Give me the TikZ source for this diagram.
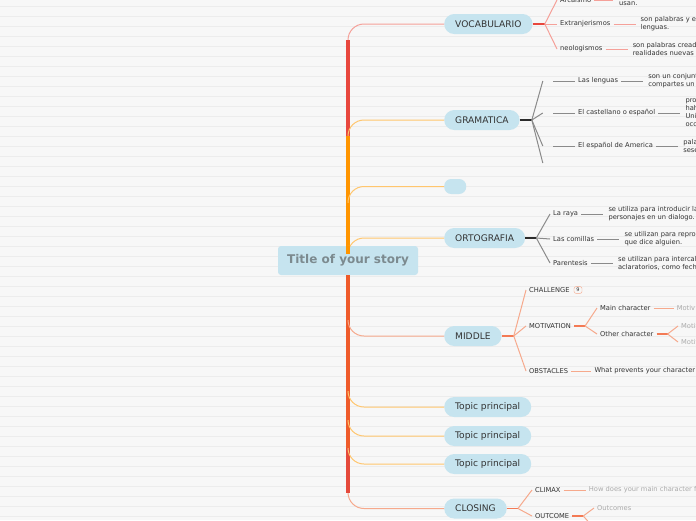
\documentclass[tikz,border=0pt]{standalone}
\usepackage{fontspec}
\setmainfont{DejaVu Sans}
\usetikzlibrary{calc,positioning}

\definecolor{paper}{HTML}{F7F7F7}
\definecolor{ruling}{HTML}{ECECEC}
\definecolor{topicblue}{HTML}{C6E4EF}
\definecolor{titlegray}{HTML}{7C8A8F}
\definecolor{redbr}{HTML}{E8473D}
\definecolor{redlt}{HTML}{F5A099}
\definecolor{orangebr}{HTML}{FF9500}
\definecolor{orangelt}{HTML}{FFC66E}
\definecolor{midbr}{HTML}{EF5B2A}
\definecolor{midjoint}{HTML}{F37A55}
\definecolor{midlt}{HTML}{F6A98C}
\definecolor{closebr}{HTML}{E5493B}
\definecolor{darkline}{HTML}{2B2B2B}
\definecolor{grayline}{HTML}{8A8A8A}
\definecolor{textdark}{HTML}{333333}
\definecolor{textlight}{HTML}{ABABAB}

\tikzset{
  topic/.style={fill=topicblue, rounded corners=10pt, minimum height=20pt,
    inner xsep=11pt, inner ysep=0pt, anchor=west, text=textdark,
    font=\fontsize{9.1}{10}\selectfont},
  sub/.style={anchor=west, inner xsep=3pt, inner ysep=1pt, text=textdark,
    font=\fontsize{6.7}{8}\selectfont},
  detail/.style={anchor=west, inner xsep=5pt, inner ysep=0pt, align=left,
    text=textdark, font=\fontsize{6.7}{8}\selectfont},
  faint/.style={text=textlight},
  trunk/.style={line width=3.6pt},
  twig/.style={line width=1pt},
  joint/.style={line width=1.8pt},
}

\begin{document}
\begin{tikzpicture}[x=1pt,y=-1pt]
    % Paper with ruled lines
    \useasboundingbox (0,0) rectangle (696,520);
    \clip (0,0) rectangle (696,520);
    \fill[paper] (0,0) rectangle (696,520);
    \foreach \y in {6,16,...,516}
        \draw[ruling, line width=0.9pt] (0,\y) -- (696,\y);

    % Central topic
    \node[fill=topicblue, rounded corners=3pt, minimum width=140pt, minimum height=29pt,
        text=titlegray, font=\bfseries\fontsize{12}{14}\selectfont] (title) at (348,260.5) {Title of your story};

    % Main topics
    \node[topic] (voc) at (444,24) {VOCABULARIO};
    \node[topic] (gram) at (444,120) {GRAMATICA};
    \node[topic, minimum width=18pt, minimum height=15pt, rounded corners=7pt] (blank) at (444,186.5) {};
    \node[topic] (orto) at (444,238) {ORTOGRAFIA};
    \node[topic] (mid) at (444,336) {MIDDLE};
    \node[topic] (tp1) at (444,407) {Topic principal};
    \node[topic] (tp2) at (444,436) {Topic principal};
    \node[topic] (tp3) at (444,464) {Topic principal};
    \node[topic] (close) at (444,508.5) {CLOSING};

    % Branches above the title
    \foreach \n/\c/\l in {voc/redbr/redlt, gram/orangebr/orangelt, blank/orangebr/orangelt, orto/orangebr/orangelt} {
        \draw[twig, \l, rounded corners=16pt] (title.north) |- (\n.west);
        \draw[trunk, \c] (title.north) -- ($(title.north |- \n.west)+(0,16)$);
    }
    % Branches below the title
    \foreach \n/\c/\l in {close/closebr/midlt, tp3/midbr/orangelt, tp2/midbr/orangelt, tp1/midbr/orangelt, mid/midbr/midlt} {
        \draw[twig, \l, rounded corners=16pt] (title.south) |- (\n.west);
        \draw[trunk, \c] (title.south) -- ($(title.south |- \n.west)+(0,-16)$);
    }

    % VOCABULARIO
    \coordinate[right=12pt of voc.east] (vocj);
    \draw[joint, redbr] (voc.east) -- (vocj);
    \node[sub] (arc) at (557,0) {Arcaismo};
    \node[sub] (extr) at (557,24) {Extranjerismos};
    \node[sub] (neo) at (557,49) {neologismos};
    \foreach \k in {arc,extr,neo}
        \draw[twig, redlt] (vocj) -- (\k.west);
    \node[detail] (arcd) at (614,3.5) {usan.};
    \node[detail, right=22pt of extr] (extrd) {son palabras y exp\\lenguas.};
    \node[detail, right=22pt of neo] (neod) {son palabras creadas\\realidades nuevas co};
    \draw[twig, redlt] (arc.east) -- ($(arcd.west |- arc.east)+(-1pt,0)$);
    \draw[twig, redlt] (extr.east) -- (extrd.west);
    \draw[twig, redlt] (neo.east) -- (neod.west);

    % GRAMATICA
    \coordinate[right=12pt of gram.east] (gramj);
    \draw[joint, darkline] (gram.east) -- (gramj);
    \foreach \k/\y in {g1/81, g2/113, g3/146, g4/163} {
        \node[inner sep=0pt, minimum width=10pt] (\k) at (548,\y) {};
        \draw[twig, grayline] (gramj) -- (\k.west);
    }
    \node[sub] (leng) at (575,81) {Las lenguas};
    \node[sub] (cast) at (575,113) {El castellano o español};
    \node[sub] (amer) at (575,146) {El español de America};
    \node[detail, right=22pt of leng] (lengd) {son un conjunto\\compartes un g};
    \node[detail, right=22pt of cast] (castd) {proc\\hahb\\Unid\\occi};
    \node[detail, right=22pt of amer] (amerd) {palab\\sesea};
    \foreach \a/\b/\d in {g1/leng/lengd, g2/cast/castd, g3/amer/amerd} {
        \draw[twig, grayline] (\a.east) -- (\b.west);
        \draw[twig, grayline] (\b.east) -- (\d.west);
    }

    % ORTOGRAFIA
    \coordinate[right=11pt of orto.east] (ortoj);
    \draw[joint, darkline] (orto.east) -- (ortoj);
    \node[sub] (raya) at (550,214) {La raya};
    \node[sub] (comi) at (550,239) {Las comillas};
    \node[sub] (paren) at (550,263) {Parentesis};
    \node[detail, right=22pt of raya] (rayad) {se utiliza para introducir las\\personajes en un dialogo.};
    \node[detail, right=22pt of comi] (comid) {se utilizan para reprod\\que dice alguien.};
    \node[detail, right=22pt of paren] (parend) {se utilizan para intercala\\aclaratorios, como fecha};
    \foreach \b/\d in {raya/rayad, comi/comid, paren/parend} {
        \draw[twig, grayline] (ortoj) -- (\b.west);
        \draw[twig, grayline] (\b.east) -- (\d.west);
    }

    % MIDDLE
    \coordinate[right=12pt of mid.east] (midj);
    \draw[joint, midjoint] (mid.east) -- (midj);
    \node[sub] (chal) at (526,290) {CHALLENGE};
    \node[sub] (moti) at (526,326) {MOTIVATION};
    \node[sub] (obst) at (526,371) {OBSTACLES};
    \foreach \k in {chal,moti,obst}
        \draw[twig, midlt] (midj) -- (\k.west);
    \node[draw=midlt, rounded corners=2pt, inner sep=1.5pt, minimum width=8pt, text=textdark,
        font=\fontsize{5}{6}\selectfont, right=1pt of chal] (badge) {9};
    \coordinate[right=11pt of moti.east] (motij);
    \draw[joint, midjoint] (moti.east) -- (motij);
    \node[sub] (mainc) at (597,308) {Main character};
    \node[sub] (other) at (597,334) {Other character};
    \draw[twig, midlt] (motij) -- (mainc.west);
    \draw[twig, midlt] (motij) -- (other.west);
    \node[sub, faint, right=20pt of mainc] (maind) {Motiv};
    \draw[twig, midlt] (mainc.east) -- (maind.west);
    \coordinate[right=11pt of other.east] (otherj);
    \draw[joint, midjoint] (other.east) -- (otherj);
    \node[sub, faint] (otherd1) at (678,326) {Motiv};
    \node[sub, faint] (otherd2) at (678,342) {Motiv};
    \draw[twig, midlt] (otherj) -- (otherd1.west);
    \draw[twig, midlt] (otherj) -- (otherd2.west);
    \node[sub, right=20pt of obst] (obstd) {What prevents your character};
    \draw[twig, midlt] (obst.east) -- (obstd.west);

    % CLOSING
    \coordinate[right=11pt of close.east] (closej);
    \draw[joint, midjoint] (close.east) -- (closej);
    \node[sub] (clim) at (532,490) {CLIMAX};
    \node[sub] (outc) at (532,516) {OUTCOME};
    \draw[twig, midlt] (closej) -- (clim.west);
    \draw[twig, midlt] (closej) -- (outc.west);
    \node[sub, faint, right=22pt of clim] (climd) {How does your main character fi};
    \draw[twig, midlt] (clim.east) -- (climd.west);
    \coordinate[right=11pt of outc.east] (outj);
    \draw[joint, midjoint] (outc.east) -- (outj);
    \node[sub, faint] (outs) at (594,508) {Outcomes};
    \coordinate (outmore) at (594,528);
    \draw[twig, midlt] (outj) -- (outs.west);
    \draw[twig, midlt] (outj) -- (outmore);
\end{tikzpicture}
\end{document}
